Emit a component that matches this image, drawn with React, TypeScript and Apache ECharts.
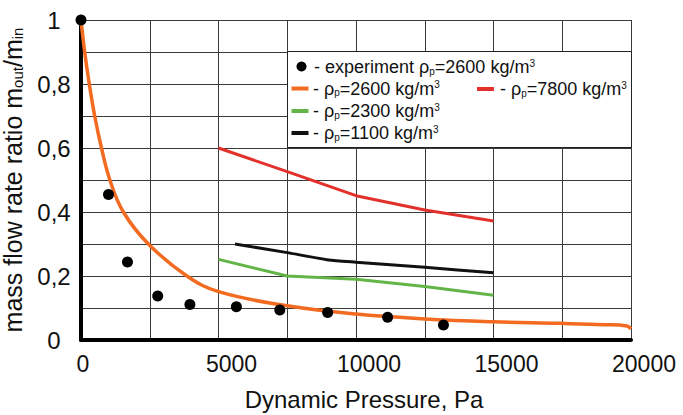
import React, { useEffect, useRef } from "react";
import * as echarts from "echarts";

const experiment: [number, number][] = [
  [0, 1.0], [1000, 0.455], [1690, 0.244], [2790, 0.1375], [3960, 0.111],
  [5650, 0.104], [7230, 0.094], [8970, 0.086], [11150, 0.071], [13180, 0.047],
];
const rho2600: [number, number][] = [
  [0, 1.0], [134, 0.9], [302, 0.8], [498, 0.7], [745, 0.6], [1050, 0.5],
  [1540, 0.4], [2450, 0.3], [3850, 0.2], [5000, 0.151],
  [7500, 0.107], [10000, 0.081], [12500, 0.066], [15000, 0.057],
  [17400, 0.052], [19000, 0.048], [19850, 0.044], [20000, 0.035],
];
const rho7800: [number, number][] = [
  [5000, 0.6], [7500, 0.526], [10000, 0.451], [12500, 0.406], [15000, 0.372],
];
const rho2300: [number, number][] = [
  [5000, 0.252], [7500, 0.2], [10000, 0.19], [12500, 0.167], [15000, 0.14],
];
const rho1100: [number, number][] = [
  [5600, 0.3], [7500, 0.273], [9000, 0.25], [10000, 0.243], [12500, 0.227], [15000, 0.21],
];
const xTickLabels = [0, 5000, 10000, 15000, 20000];
const yTickLabels = [0, 0.2, 0.4, 0.6, 0.8, 1];

const FONT = "'Liberation Sans', Arial, sans-serif";
const ORANGE = "#F26B21";
const RED = "#E2302A";
const GREEN = "#62B546";
const BLACK = "#111111";

const legendRich = {
  r: { fontSize: 18, fontFamily: FONT, fill: "#111" },
  s: { fontSize: 10, fontFamily: FONT, fill: "#111", verticalAlign: "bottom" },
  u: { fontSize: 10, fontFamily: FONT, fill: "#111", verticalAlign: "top" },
};

function legendText(x: number, y: number, text: string) {
  return {
    type: "text",
    x,
    y,
    z: 101,
    style: {
      text,
      fontSize: 18,
      fontFamily: FONT,
      fill: "#111",
      verticalAlign: "middle",
      rich: legendRich,
    },
  };
}
function legendLine(x: number, y: number, color: string) {
  return {
    type: "line",
    z: 101,
    shape: { x1: x, y1: y, x2: x + 17, y2: y },
    style: { stroke: color, lineWidth: 4 },
  };
}

export default function App() {
  const ref = useRef<HTMLDivElement>(null);
  useEffect(() => {
    if (!ref.current) return;
    const chart = echarts.init(ref.current, null, { renderer: "svg" });
    const option = {
      animation: false,
      backgroundColor: "#ffffff",
      grid: { left: 81, right: 52, top: 20, bottom: 75, containLabel: false, outerBoundsMode: "none" },
      xAxis: {
        type: "value",
        min: 0,
        max: 20000,
        interval: 2500,
        name: "Dynamic Pressure, Pa",
        nameLocation: "middle",
        nameGap: 47,
        nameTextStyle: { fontSize: 24, fontFamily: FONT, color: "#111", padding: [0, 0, 0, 16] },
        axisLine: { show: true, onZero: false, lineStyle: { color: "#000", width: 4 } },
        axisTick: { show: false },
        splitLine: { show: true, lineStyle: { color: "#3a3a3a", width: 1 } },
        axisLabel: {
          margin: 12,
          color: "#111",
          fontSize: 23,
          fontFamily: FONT,
          showMinLabel: true,
          showMaxLabel: true,
          formatter: (v: number) => {
            if (!xTickLabels.includes(v)) return "";
            return v === 0 ? "{z|0}" : `{a|${v}}`;
          },
          rich: {
            a: { fontSize: 23, fontFamily: FONT, color: "#111", padding: [0, 0, 0, 26] },
            z: { fontSize: 23, fontFamily: FONT, color: "#111", padding: [0, 0, 0, 4] },
          },
        },
      },
      yAxis: {
        type: "value",
        min: 0,
        max: 1,
        interval: 0.1,
        name: "{m|mass flow rate ratio m}{s|out}{m|/m}{s|in}",
        nameLocation: "middle",
        nameRotate: 90,
        nameGap: 56,
        nameTextStyle: {
          fontSize: 25,
          fontFamily: FONT,
          color: "#111",
          padding: [0, 0, 0, 0],
          rich: {
            m: { fontSize: 25, fontFamily: FONT, color: "#111" },
            s: { fontSize: 15, fontFamily: FONT, color: "#111", verticalAlign: "bottom" },
          },
        },
        axisLine: { show: true, onZero: false, lineStyle: { color: "#000", width: 4 } },
        axisTick: { show: false },
        splitLine: { show: true, lineStyle: { color: "#3a3a3a", width: 1 } },
        axisLabel: {
          margin: 27,
          align: "center",
          color: "#111",
          fontSize: 24,
          fontFamily: FONT,
          showMinLabel: true,
          showMaxLabel: true,
          formatter: (v: number) => {
            const r = Math.round(v * 10) / 10;
            if (!yTickLabels.some((t) => Math.abs(t - r) < 1e-9)) return "";
            return String(r).replace(".", ",");
          },
        },
      },
      series: [
        {
          name: "rho 2600",
          type: "line",
          data: rho2600,
          smooth: 0.4,
          showSymbol: false,
          clip: false,
          lineStyle: { color: ORANGE, width: 3.5 },
          z: 3,
        },
        {
          name: "rho 7800",
          type: "line",
          data: rho7800,
          showSymbol: false,
          lineStyle: { color: RED, width: 3 },
          z: 3,
        },
        {
          name: "rho 2300",
          type: "line",
          data: rho2300,
          showSymbol: false,
          lineStyle: { color: GREEN, width: 3 },
          z: 3,
        },
        {
          name: "rho 1100",
          type: "line",
          data: rho1100,
          smooth: 0.2,
          showSymbol: false,
          lineStyle: { color: BLACK, width: 3 },
          z: 3,
        },
        {
          name: "experiment",
          type: "scatter",
          data: experiment,
          symbol: "circle",
          symbolSize: 11,
          clip: false,
          itemStyle: { color: "#000", opacity: 1 },
          z: 4,
        },
      ],
      graphic: [
        {
          type: "rect",
          z: 100,
          shape: { x: 287.5, y: 51.5, width: 344, height: 96 },
          style: { fill: "#ffffff", stroke: "#222", lineWidth: 1 },
        },
        {
          type: "circle",
          z: 101,
          shape: { cx: 301.5, cy: 66.5, r: 5 },
          style: { fill: "#000" },
        },
        legendText(314, 67, "- experiment {r|ρ}{s|p}=2600 kg/m{u|3}"),
        legendLine(291.5, 88.5, ORANGE),
        legendText(313, 88.5, "- {r|ρ}{s|p}=2600 kg/m{u|3}"),
        legendLine(477, 89, RED),
        legendText(500, 89, "- {r|ρ}{s|p}=7800 kg/m{u|3}"),
        legendLine(291.5, 111, GREEN),
        legendText(313, 111, "- {r|ρ}{s|p}=2300 kg/m{u|3}"),
        legendLine(291.5, 133, BLACK),
        legendText(313, 133, "- {r|ρ}{s|p}=1100 kg/m{u|3}"),
      ],
    };
    chart.setOption(option as any);
    return () => chart.dispose();
  }, []);
  return (
    <div
      ref={ref}
      style={{ position: "fixed", left: 0, top: 0, width: 683, height: 415, background: "#fff" }}
    />
  );
}
